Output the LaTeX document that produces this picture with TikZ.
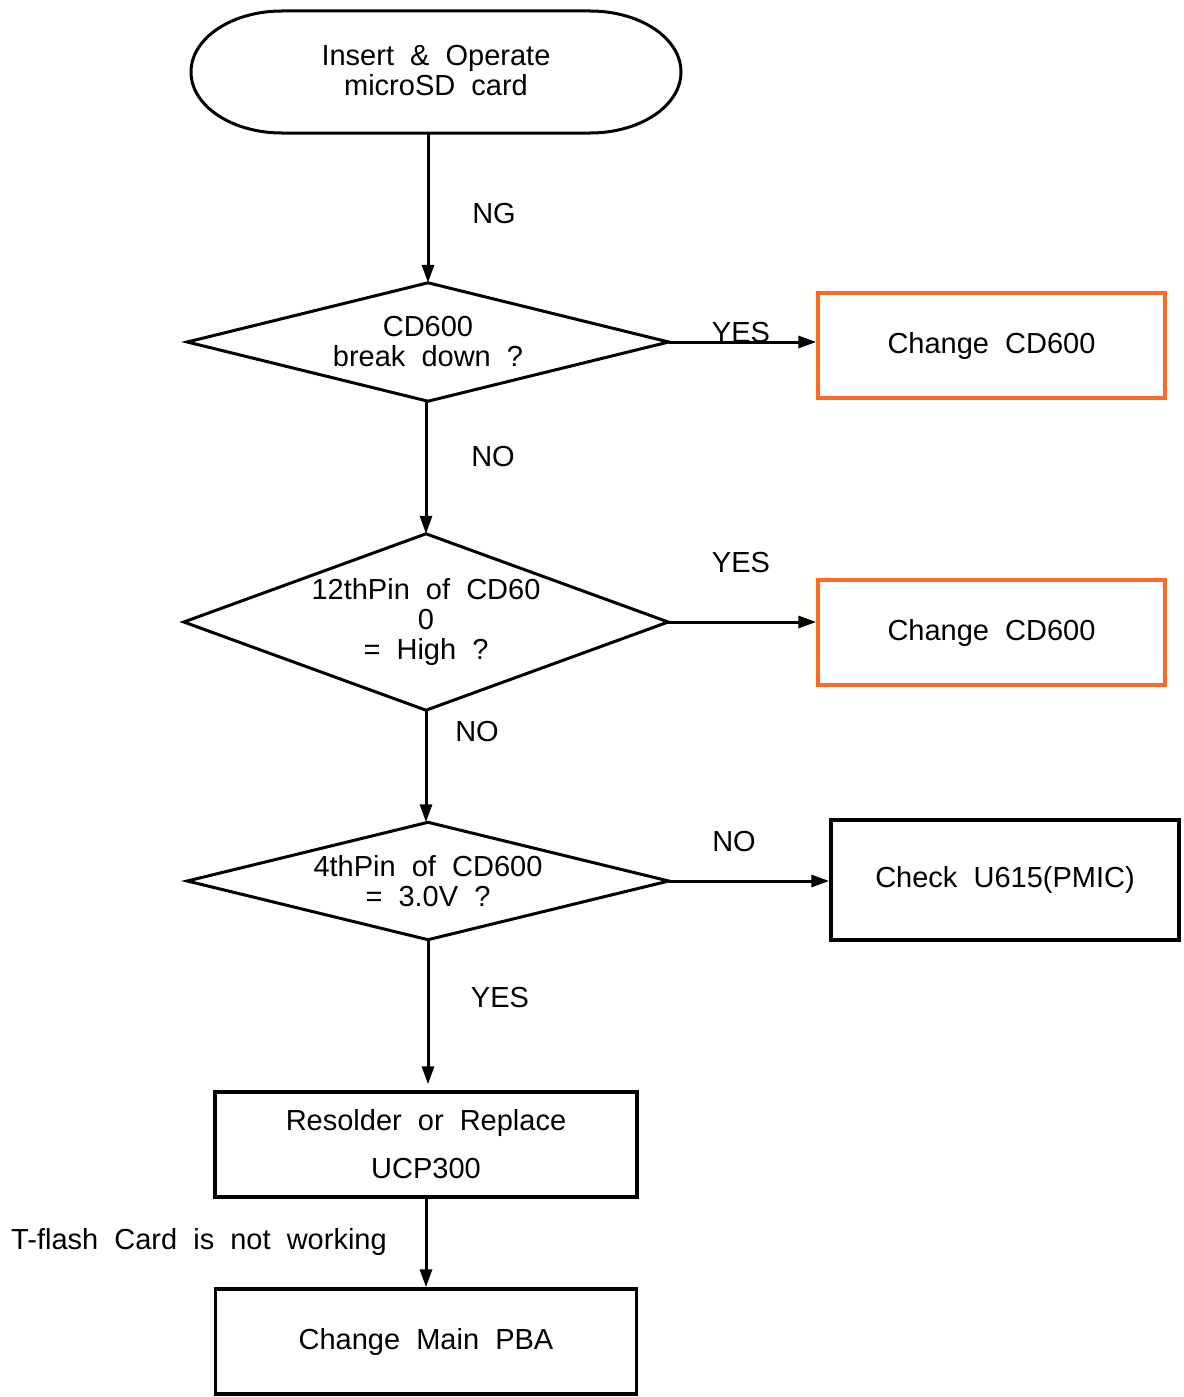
\documentclass[tikz,border=0pt]{standalone}
\usepackage{fontspec}
\setmainfont[WordSpace=2]{Liberation Sans}
\usetikzlibrary{arrows.meta}
\definecolor{orangeline}{HTML}{FF6A22}
\begin{document}
\begin{tikzpicture}[x=1pt,y=-1pt,
  every node/.style={font=\fontsize{29pt}{30pt}\selectfont, inner sep=0pt},
  conn/.style={line width=3pt, -{Triangle[length=18pt,width=12pt]}},
  outline/.style={line width=3pt},
  boxblack/.style={draw=black, line width=3.5pt, minimum width=#1, minimum height=105pt, align=center},
  boxorange/.style={draw=orangeline, line width=3.5pt, minimum width=347pt, minimum height=105pt, align=center},
  lbl/.style={}]
\useasboundingbox (0,0) rectangle (1183,1397);

% terminal
\node[minimum width=489pt, minimum height=122pt, align=center] (start) at (436,71) {Insert \& Operate\\microSD card};
\draw[outline] (282,11) -- (590,11)
  .. controls (640.3,11) and (681,38.3) .. (681,72)
  .. controls (681,105.7) and (640.3,133) .. (590,133)
  -- (282,133)
  .. controls (231.7,133) and (191,105.7) .. (191,72)
  .. controls (191,38.3) and (231.7,11) .. (282,11) -- cycle;

% diamond 1
\node[minimum width=481pt, minimum height=118pt, align=center] (d1) at (428,342) {CD600\\break down ?};
\draw[outline] (d1.north) -- (d1.east) -- (d1.south) -- (d1.west) -- cycle;

% diamond 2
\node[minimum width=484pt, minimum height=176pt, align=center] (d2) at (426,622) {12thPin of CD60\\0\\= High ?};
\draw[outline] (d2.north) -- (d2.east) -- (d2.south) -- (d2.west) -- cycle;

% diamond 3
\node[minimum width=481pt, minimum height=117pt, align=center] (d3) at (428,881) {4thPin of CD600\\= 3.0V ?};
\draw[outline] (d3.north) -- (d3.east) -- (d3.south) -- (d3.west) -- cycle;

% boxes
\node[boxorange] (b1) at (991.5,345.5) {Change CD600};
\node[boxorange] (b2) at (991.5,632.5) {Change CD600};
\node[boxblack=348pt, minimum height=120pt] (b3) at (1005,880) {Check U615(PMIC)};
\node[boxblack=422pt, font=\fontsize{29pt}{48pt}\selectfont] (b4) at (426,1144.5) {Resolder or Replace\\UCP300};
\node[boxblack=421pt] (b5) at (426,1341.5) {Change Main PBA};

% connectors
\draw[conn] (start.south -| d1.north) -- (d1.north);
\draw[conn] (d1.east) -- (d1.east -| b1.west);
\draw[conn] (d2.north |- d1.south) -- (d2.north);
\draw[conn] (d2.east) -- (d2.east -| b2.west);
\draw[conn] (d2.south) -- (d2.south |- d3.north);
\draw[conn] (d3.east) -- (d3.east -| b3.west);
\draw[conn, shorten >=6pt] (d3.south) -- (d3.south |- b4.north);
\draw[conn] (b4.south) -- (b5.north);

% labels
\node[lbl] (lng) at (494,214) {NG};
\node[lbl] (lyes1) at (741,333) {YES};
\node[lbl] (lno1) at (493,457) {NO};
\node[lbl] (lyes2) at (741,563) {YES};
\node[lbl] (lno2) at (477,732) {NO};
\node[lbl] (lno3) at (734,842) {NO};
\node[lbl] (lyes3) at (500,998) {YES};
\node[lbl] (ltf) at (199,1242) {T-flash Card is not working};
\end{tikzpicture}
\end{document}
